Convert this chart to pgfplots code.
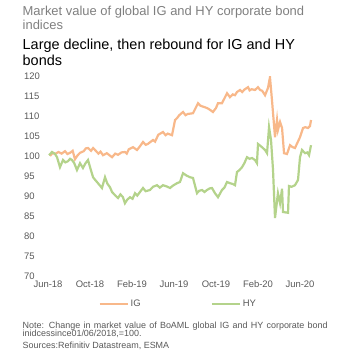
\documentclass[border=0pt]{standalone}
\usepackage{pgfplots}
\pgfplotsset{compat=1.18}
\usepackage{fontspec}
\setmainfont{Liberation Sans}
\definecolor{igc}{HTML}{F8B88A}
\definecolor{hyc}{HTML}{B4D38B}
\definecolor{titlegray}{HTML}{7F7F7F}
\definecolor{tickgray}{HTML}{595959}
\begin{document}
\begin{tikzpicture}[x=1bp,y=1bp]
\useasboundingbox (0,0) rectangle (357,356);
\node[anchor=base west,inner sep=0,text=titlegray,font=\fontsize{13}{15}\selectfont] at (22.5,341) {Market value of global IG and HY corporate bond};
\node[anchor=base west,inner sep=0,text=titlegray,font=\fontsize{13}{15}\selectfont] at (22.5,327) {indices};
\node[anchor=base west,inner sep=0,text=black,font=\fontsize{14.5}{16}\selectfont] at (22.5,307) {Large decline, then rebound for IG and HY};
\node[anchor=base west,inner sep=0,text=black,font=\fontsize{14.5}{16}\selectfont] at (22.5,291) {bonds};
\begin{axis}[
  at={(48bp,80bp)}, anchor=south west,
  scale only axis, width=264.6bp, height=200bp,
  xmin=0, xmax=25.2, ymin=70, ymax=120,
  axis line style={draw=none}, tick style={draw=none}, major tick length=0pt,
  xtick={0,4,8,12,16,20,24},
  xticklabels={Jun-18,Oct-18,Feb-19,Jun-19,Oct-19,Feb-20,Jun-20},
  ytick={70,75,...,120},
  /pgf/number format/assume math mode=true,
  tick label style={font=\fontsize{9.5}{11}\selectfont, text=tickgray},
  yticklabel style={anchor=west, inner sep=0pt, xshift=-24bp},
  xticklabel style={yshift=-1bp},
  legend columns=2,
  legend style={at={(axis description cs:0.19,-0.14)}, anchor=west, draw=none, fill=none,
    inner sep=0pt, font=\fontsize{9.5}{11}\selectfont, text=tickgray,
    /tikz/every even column/.append style={column sep=68bp}},
  legend image code/.code={\draw[#1] (0bp,0bp) -- (28bp,0bp);},
]
\addplot[igc, line width=2.2bp] coordinates {
(0.19,100) (0.45,100.8) (0.67,100.5) (1.0,101.0) (1.3,100.6) (1.62,101.2) (1.85,100.5) (2.10,100.8) (2.35,101.3) (2.57,99.2) (2.8,100.1) (3.05,100.8) (3.4,101.2) (3.6,101.9) (3.81,102) (4.1,101.3) (4.3,102.0) (4.48,101.5) (4.8,100.6) (5.0,101.1) (5.24,100.2) (5.6,100.7) (5.85,100.2) (6.10,99.7) (6.4,100.6) (6.67,100.3) (7.0,100.9) (7.33,101) (7.5,100.6) (7.7,101.7) (8.10,102.2) (8.48,101.5) (8.75,102.4) (9.05,103.5) (9.3,102.8) (9.5,103.0) (10.0,104) (10.2,103.6) (10.5,105.3) (10.95,106) (11.2,105.2) (11.4,105.6) (11.81,105.2) (12.10,109) (12.3,109.5) (12.5,110.2) (12.86,111) (13.1,110.2) (13.3,110.5) (13.81,110.7) (14.29,113.2) (14.5,112.6) (14.7,112.4) (15.14,112) (15.4,111.6) (15.71,111) (16.0,112.0) (16.19,113.2) (16.57,113.2) (17.05,115.7) (17.33,114.7) (17.6,115.4) (17.81,115.2) (18.0,116.0) (18.29,116.5) (18.5,116.0) (18.7,116.6) (19.05,117.2) (19.2,116.4) (19.4,116.7) (19.71,116.5) (20.0,117.2) (20.2,116.5) (20.4,116.3) (20.67,115.2) (20.95,117) (21.14,119.7) (21.33,114) (21.62,104.7) (21.81,109) (21.90,106.5) (22.10,108.5) (22.29,107) (22.48,100.7) (22.76,100.5) (23.05,102.7) (23.3,102.2) (23.52,102) (24.0,104.7) (24.29,107) (24.5,107.2) (24.76,107) (24.95,107.5) (25.05,109)
};
\addlegendentry{IG}
\addplot[hyc, line width=2.2bp] coordinates {
(0.1,100.2) (0.38,101) (0.67,100.5) (0.86,99.7) (1.14,97.2) (1.43,99) (1.65,98.4) (1.9,98.7) (2.1,99.3) (2.29,99) (2.5,98.2) (2.76,96.5) (3.05,98.2) (3.33,97) (3.55,98.1) (3.81,99) (4.05,96.8) (4.29,94.7) (4.5,94.0) (4.76,93.2) (5.14,92) (5.43,94.7) (5.65,93.1) (5.90,92.2) (6.1,91.0) (6.38,90.2) (6.67,89.5) (6.9,90.4) (7.14,89.7) (7.33,88.2) (7.55,89.1) (7.81,89.7) (8.05,89.3) (8.29,90.7) (8.5,90.1) (8.7,90.8) (9.05,92) (9.3,91.2) (9.71,91.5) (10.0,92.3) (10.38,92.7) (10.65,92.1) (10.95,92.7) (11.3,92.4) (11.62,92) (11.9,92.6) (12.29,93.2) (12.57,93.5) (12.86,95.7) (13.2,95.1) (13.52,94.7) (13.81,94.5) (14.19,90.7) (14.4,91.3) (14.67,91.5) (14.9,91.0) (15.14,91.5) (15.4,91.9) (15.62,92) (15.90,90.7) (16.19,89.7) (16.57,91.5) (16.8,92.1) (17.05,93.5) (17.33,93.2) (17.6,93.0) (17.81,92.7) (18.0,96) (18.2,96.4) (18.48,97.2) (18.7,98.2) (18.95,99.7) (19.2,99.3) (19.43,99.5) (19.71,99) (19.90,98.2) (20.0,103) (20.2,102.6) (20.38,102.2) (20.67,101.5) (20.86,100.7) (21.05,107.2) (21.24,104) (21.43,96.5) (21.62,84.5) (21.90,90.7) (22.10,88.2) (22.29,91.8) (22.38,86) (22.86,85.8) (22.95,92.5) (23.2,92.3) (23.52,92.7) (23.81,94) (24.0,99.7) (24.19,101.5) (24.48,100.7) (24.7,100.9) (24.86,100.2) (25.05,102.7)
};
\addlegendentry{HY}
\end{axis}
\node[anchor=base west,inner sep=0,text=tickgray,font=\fontsize{9}{9}\selectfont] at (22.5,28) {\makebox[305bp][s]{Note: Change in market value of BoAML global IG and HY corporate bond}};
\node[anchor=base west,inner sep=0,text=tickgray,font=\fontsize{9}{9}\selectfont] at (22.5,20) {inidcessince01/06/2018,=100.};
\node[anchor=base west,inner sep=0,text=tickgray,font=\fontsize{9}{9}\selectfont] at (22.5,7.5) {Sources:Refinitiv Datastream, ESMA};
\end{tikzpicture}
\end{document}
